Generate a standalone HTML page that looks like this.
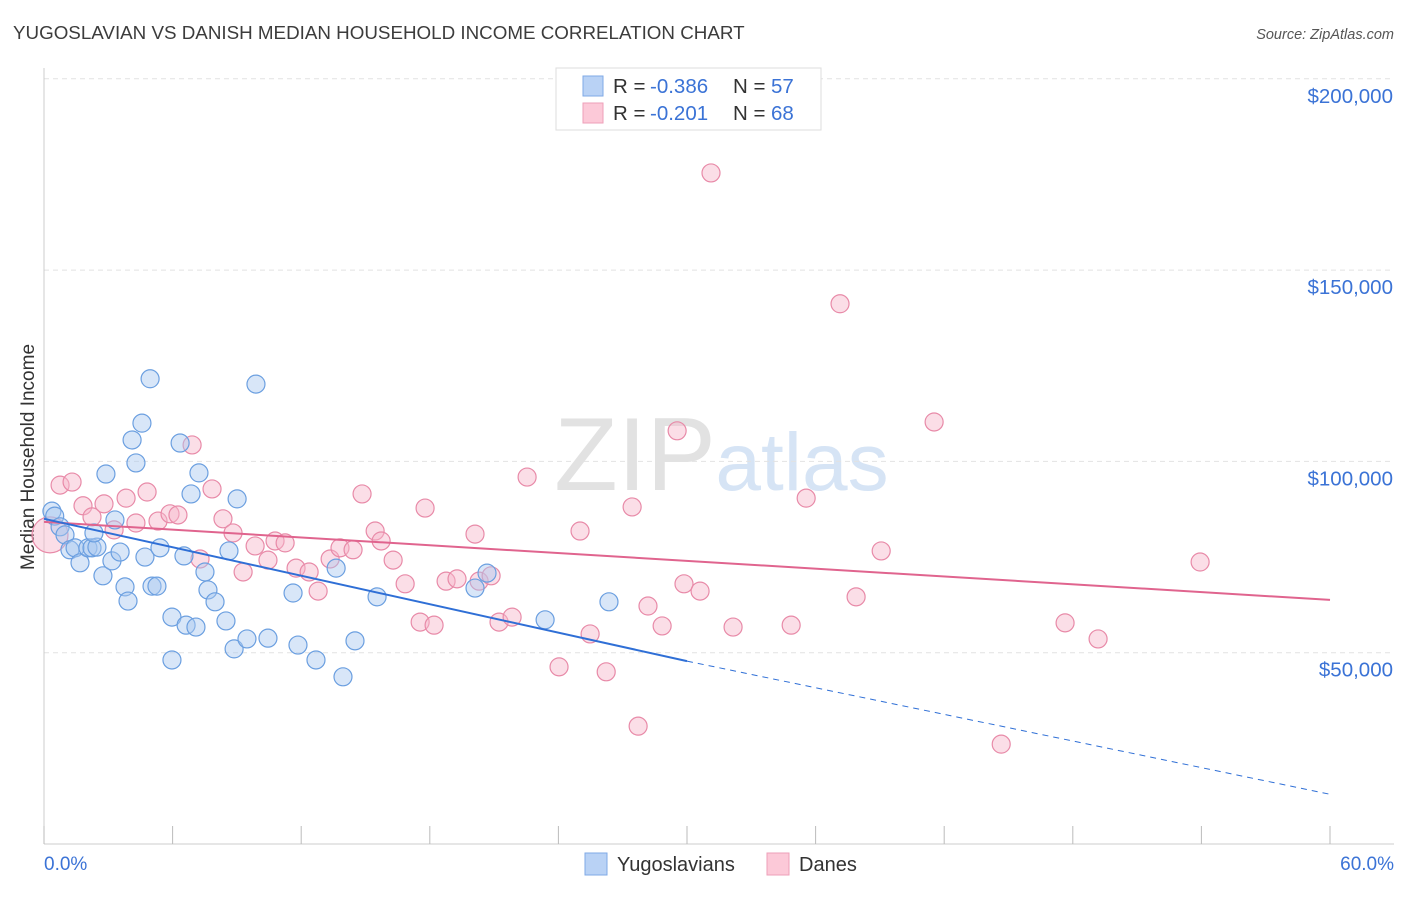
<!DOCTYPE html>
<html><head><meta charset="utf-8"><style>
body{margin:0;background:#fff;font-family:"Liberation Sans",sans-serif;}
svg text{font-family:"Liberation Sans",sans-serif;}
</style></head><body>
<svg id="chart" width="1406" height="892" xmlns="http://www.w3.org/2000/svg">
<text x="13" y="39" font-size="18.8" fill="#3c3c3c">YUGOSLAVIAN VS DANISH MEDIAN HOUSEHOLD INCOME CORRELATION CHART</text>
<text x="1394" y="39" font-size="14.5" fill="#555" font-style="italic" text-anchor="end">Source: ZipAtlas.com</text>
<text transform="translate(34,457) rotate(-90)" font-size="19" fill="#333" text-anchor="middle">Median Household Income</text>
<g><text x="635" y="490" font-size="104" fill="#e2e2e2" font-family="Liberation Serif" text-anchor="middle">ZIP</text><text x="802" y="490" font-size="82" fill="#d6e4f5" text-anchor="middle">atlas</text></g>
<g id="grid"></g><g id="axes"></g><g id="pts"></g><g id="trend"></g>
<g>
<rect x="556" y="68" width="265" height="62" fill="#fff" stroke="#ddd"/>
<rect x="583" y="76" width="20" height="20" fill="#b9d2f5" stroke="#7fa9e6"/>
<rect x="583" y="103" width="20" height="20" fill="#fcc9d8" stroke="#ee9fb8"/>
<text x="613" y="93" font-size="20.5" fill="#333">R =</text>
<text x="650" y="93" font-size="20.5" fill="#3b73d6">-0.386</text>
<text x="733" y="93" font-size="20.5" fill="#333">N =</text>
<text x="771" y="93" font-size="20.5" fill="#3b73d6">57</text>
<text x="613" y="120" font-size="20.5" fill="#333">R =</text>
<text x="650" y="120" font-size="20.5" fill="#3b73d6">-0.201</text>
<text x="733" y="120" font-size="20.5" fill="#333">N =</text>
<text x="771" y="120" font-size="20.5" fill="#3b73d6">68</text>
</g>
<g>
<rect x="585" y="853" width="22" height="22" fill="#b9d2f5" stroke="#7fa9e6"/>
<text x="617" y="871" font-size="20" fill="#333">Yugoslavians</text>
<rect x="767" y="853" width="22" height="22" fill="#fcc9d8" stroke="#ee9fb8"/>
<text x="799" y="871" font-size="20" fill="#333">Danes</text>
</g>
</svg>
<script>
const xTicksLabels=["0.0%","60.0%"];
const yTicks=[50000,100000,150000,200000];
const yTickLabels=["$50,000","$100,000","$150,000","$200,000"];
const blueX=[0.37,0.5,0.75,0.98,1.21,1.45,1.68,2.05,2.24,2.47,2.33,2.75,2.89,3.17,3.31,3.55,3.78,3.92,4.11,4.29,4.57,4.71,4.95,5.04,5.27,5.41,5.97,5.97,6.35,6.53,6.63,6.86,7.09,7.23,7.51,7.65,7.98,8.49,8.63,8.87,9.01,9.47,9.89,10.45,11.62,11.85,12.69,13.63,13.95,14.51,15.54,20.11,20.67,23.38,26.36];
const blueY=[87000,85700,82900,80800,76900,77400,73500,77400,77400,77600,81300,70100,96700,74000,84700,76300,67200,63500,105600,99600,110000,75000,121600,67400,67400,77400,59300,48100,104800,75300,57200,91500,56700,97000,71100,66400,63300,58300,76600,51000,90200,53600,120200,53800,65600,52000,48100,72100,43700,53100,64600,66900,70800,58600,63300];
const pinkX=[0.28,0.75,1.31,1.82,2.24,2.8,3.27,3.83,4.29,4.81,5.32,5.88,6.25,6.91,7.28,7.84,8.35,8.82,9.29,9.85,10.45,10.78,11.25,11.76,12.37,12.79,13.35,13.81,14.42,14.84,15.45,15.73,16.29,16.85,17.55,17.78,18.2,18.76,19.27,20.11,20.3,20.86,21.23,21.84,22.54,24.03,25.01,25.48,26.23,27.44,27.72,28.18,28.84,29.54,29.86,30.61,31.12,32.15,34.86,35.56,37.14,37.89,39.06,41.53,44.66,47.64,49.18,53.94];
const pinkY=[80800,93800,94600,88400,85500,88900,82100,90400,83900,92000,84400,86300,86000,104300,74500,92800,85000,81300,71100,77900,74200,79200,78700,72100,71100,66100,74500,77400,76900,91500,81800,79200,74200,68000,58000,87800,57200,68700,69300,81000,68700,70100,58000,59300,95900,46300,81800,54900,45000,88100,30800,62200,57000,108000,68000,66100,175400,56700,57200,90400,141200,64600,76600,110300,26100,57800,53600,73700];
const pinkWeight=[4];
const blueTrendX=[0,30,60];const blueTrendY=[85000,47800,13000];
const pinkTrendX=[0,60];const pinkTrendY=[84200,63800];
const NS="http://www.w3.org/2000/svg";
const X=v=>44+v*(1286/60);
const Y=v=>844-v*(191.3/50000);
function mk(t,a,p){const e=document.createElementNS(NS,t);for(const k in a)e.setAttribute(k,a[k]);p.appendChild(e);return e;}
const grid=document.getElementById('grid'),axes=document.getElementById('axes'),tr=document.getElementById('trend'),pts=document.getElementById('pts');
yTicks.forEach((v,i)=>{
 const l=mk('line',{x1:44,x2:1394,y1:Y(v),y2:Y(v),stroke:'#e2e2e2','stroke-dasharray':'5,4'},grid);
 
 
 const t=mk('text',{x:1393,y:Y(v)+24,'font-size':20.5,fill:'#3b73d6','text-anchor':'end'},axes);
 t.textContent=yTickLabels[i];
 
 
});
const ax=mk('line',{x1:44,x2:1394,y1:844,y2:844,stroke:'#ccc'},axes);


const ay=mk('line',{x1:44,x2:44,y1:68,y2:844,stroke:'#ccc'},axes);


for(let i=0;i<=10;i++){const k=mk('line',{x1:X(i*6),x2:X(i*6),y1:826,y2:844,stroke:'#bbb'},axes);
 
 }
[[0,'start',44],[60,'end',1394]].forEach((d,i)=>{const t=mk('text',{x:d[2],y:870,'font-size':19,fill:'#3b73d6','text-anchor':d[1]},axes);t.textContent=xTicksLabels[i];
 
 });
function dots(xs,ys,fill,stroke,name,w){xs.forEach((x,i)=>{const r=9*Math.sqrt((w&&w[i])||1);const c=mk('circle',{cx:X(x),cy:Y(ys[i]),r:r,fill:fill,'fill-opacity':0.45,stroke:stroke,'stroke-width':1.2},pts);
 
 });}
dots(pinkX,pinkY,'#f7b6ca','#e88aa8','dane-point',pinkWeight);
dots(blueX,blueY,'#a9c8f0','#6b9fe0','yugoslavian-point');
const p1=mk('line',{x1:X(pinkTrendX[0]),y1:Y(pinkTrendY[0]),x2:X(pinkTrendX[1]),y2:Y(pinkTrendY[1]),stroke:'#e0648e','stroke-width':2},tr);


const b1=mk('line',{x1:X(blueTrendX[0]),y1:Y(blueTrendY[0]),x2:X(blueTrendX[1]),y2:Y(blueTrendY[1]),stroke:'#2f6fd6','stroke-width':2},tr);


const b2=mk('line',{x1:X(blueTrendX[1]),y1:Y(blueTrendY[1]),x2:X(blueTrendX[2]),y2:Y(blueTrendY[2]),stroke:'#2f6fd6','stroke-width':1,'stroke-dasharray':'6,5'},tr);


</script>
</body></html>
